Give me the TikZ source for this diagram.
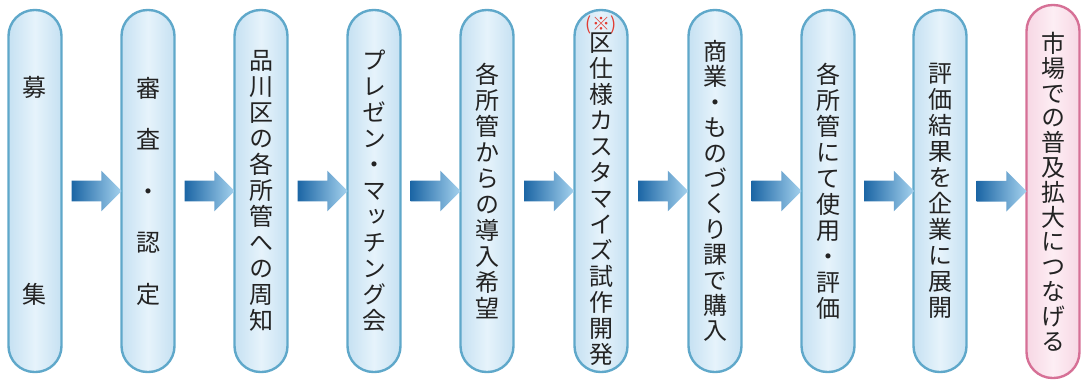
\documentclass[tikz,border=0pt]{standalone}
\usepackage{fontspec}
\usetikzlibrary{shapes.arrows}
\newfontfamily\jp[RawFeature=+vert]{Noto Sans CJK JP}
\newfontfamily\jph{Noto Sans CJK JP}
\definecolor{pillfill}{RGB}{198,225,242}
\definecolor{pilllight}{RGB}{230,243,251}
\definecolor{pillline}{RGB}{95,168,202}
\definecolor{pinkfill}{RGB}{247,215,228}
\definecolor{pinklight}{RGB}{253,238,244}
\definecolor{pinkline}{RGB}{214,112,150}
\definecolor{arrowdark}{RGB}{28,102,165}
\definecolor{arrowlight}{RGB}{165,210,238}
\definecolor{notered}{RGB}{225,60,50}
\definecolor{textgray}{RGB}{35,35,35}
\tikzset{pill/.style = {draw=pillline, line width=1.2pt, rounded corners=13pt, minimum width=26.5pt, minimum height=181pt, inner sep=0pt, left color=pillfill, right color=pillfill, middle color=pilllight, align=center, text=textgray, font=\jp\fontsize{12}{13}\selectfont},
         goal/.style = {pill, draw=pinkline, left color=pinkfill, right color=pinkfill, middle color=pinklight, minimum height=186.5pt},
         flow/.style = {single arrow, draw=none, inner xsep=0pt, inner ysep=5pt, minimum height=25pt, minimum width=0pt, single arrow head extend=5pt, left color=arrowdark, right color=arrowlight}}

\begin{document}
\begin{tikzpicture}[x=0.5pt,y=-0.5pt]
    \useasboundingbox (0,0) rectangle (1082,382);
    \node[pill](p1)at(35,191){募\\[90.5pt]集};
    \node[pill](p2)at(148,191){審\\[12.75pt]査\\[12.75pt]・\\[12.75pt]認\\[12.75pt]定};
    \node[pill](p3)at(261,191){品\\川\\区\\の\\各\\所\\管\\へ\\の\\周\\知};
    \node[pill](p4)at(374,191){プ\\レ\\ゼ\\ン\\・\\マ\\ッ\\チ\\ン\\グ\\会};
    \node[pill](p5)at(487,191){各\\所\\管\\か\\ら\\の\\導\\入\\希\\望};
    \node[pill](p6)at(601,191){{\jph\color{notered}\fontsize{9}{10}\selectfont(※)}\\[-2.5pt]区\\仕\\様\\カ\\ス\\タ\\マ\\イ\\ズ\\試\\作\\開\\発};
    \node[pill, font=\jp\fontsize{12}{12.7}\selectfont](p7)at(715,191){商\\業\\・\\も\\の\\づ\\く\\り\\課\\で\\購\\入};
    \node[pill](p8)at(828,191){各\\所\\管\\に\\て\\使\\用\\・\\評\\価};
    \node[pill](p9)at(940,191){評\\価\\結\\果\\を\\企\\業\\に\\展\\開};
    \node[goal, font=\jp\fontsize{12}{12.4}\selectfont](p10)at(1053,191.5){市\\場\\で\\の\\普\\及\\拡\\大\\に\\つ\\な\\げ\\る};
    % arrows between the steps
    \foreach \a/\b in {p1/p2,p2/p3,p3/p4,p4/p5,p5/p6,p6/p7,p7/p8,p8/p9,p9/p10}
        \path (\a) -- node[flow]{} (\b);
\end{tikzpicture}
\end{document}
